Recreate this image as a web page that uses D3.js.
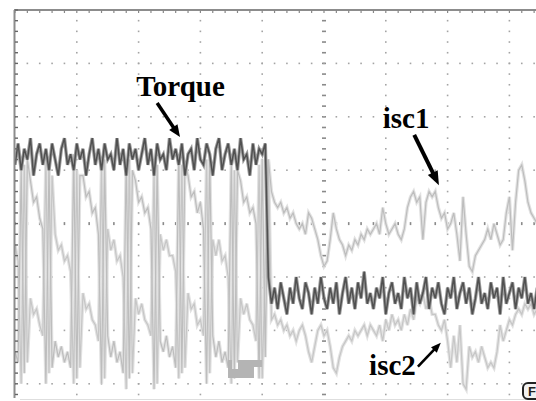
<!DOCTYPE html>
<html><head><meta charset="utf-8">
<script src="https://cdn.jsdelivr.net/npm/d3@7"></script>
<style>html,body{margin:0;padding:0;background:#fff;} svg{display:block}</style>
</head><body>
<svg id="c" width="536" height="401"></svg>
<script>
// Sample spacing in time units (10 units = 1 screen division)
const dt = 0.5;

// Torque trace (units: 10 = 1 division, 0 = screen centre)
const torque = [
 11,15,10,14,12,16,9,13,15,11,14,10,15,12,9,14,16,11,13,10,
 15,12,14,9,13,16,11,14,10,15,12,13,10,16,11,14,9,15,12,14,
 10,13,16,11,14,9,15,12,13,10,16,12,14,11,15,9,13,14,10,16,
 12,11,15,13,9,14,16,10,13,15,11,14,10,16,12,13,9,15,11,14,
 13,15,
 -10,-15,-12,-16,-11,-14,-17,-12,-15,-10,-14,-16,-11,-13,-17,-12,-15,-10,-14,-16,
 -12,-15,-11,-17,-13,-10,-15,-12,-16,-11,-14,-9,-15,-13,-16,-12,-14,-10,-17,-13,
 -11,-15,-13,-16,-10,-14,-12,-17,-11,-15,-13,-10,-16,-12,-14,-11,-15,-17,-12,-14,
 -10,-16,-13,-11,-15,-12,-17,-14,-10,-15,-13,-16,-11,-14,-12,-17,-10,-15,-13,-11,
 -16,-12,-14,-10,-15,-13,-16,-12
];

// isc1 trace
const isc1 = [
 -24,-26, 10,-28,12, 8,4,5,1,-1, -30,11,-27, -22,-25,-23,-26,-24,-27,
 13,-29,9, 9,5,6,2,3,-2, -30,12, -21,-25,-22,-26,-24,-28,
 12,-29,10, 8,4,5,2,3,-1, -31,11, -22,-24,-21,-25,-23,-27,
 13,-28,11, 9,5,6,2,4,-1, -30,12, -21,-25,-22,-26,-24,-27,
 12,-29,10, 8,4,5,2,3,0, -29,12, -25,
 12,6,4,3,4,2,3,1,2,0,
 -1,0,-2,2,1,-1,-3,-6,-8,-7,
 -3,2,-1,-3,-4,-6,-4,-5,-3,-4,
 -2,-3,-1,-2,-1,0,-2,3,0,-2,
 -1,0,-2,-3,-1,3,5,6,4,5,
 -3,4,6,5,6,3,1,2,-1,0,
 2,-2,-7,5,-2,-8,-9,-6,-5,-4,
 -3,-1,-3,0,-2,-4,-3,2,5,-5,
 4,10,11,8,4,2,1,0
];

// isc2 trace
const isc2 = [
 -4,-7, -30,11,-26, -14,-17,-16,-19,-21, 12,-28,9, -2,-5,-4,-7,-6,-9,
 -30,10,-27, -13,-16,-15,-18,-19,-22, 11,-29, -1,-5,-3,-7,-6,-10,
 -31,12,-28, -14,-17,-15,-18,-19,-21, 10,-30, -2,-5,-3,-6,-6,-9,
 -29,11,-27, -13,-16,-15,-19,-18,-21, 12,-28, -3,-6,-3,-7,-6,-10,
 -30,10,-26, -14,-17,-15,-18,-19,-22, 11,-29, -8,
 12,-18,-17,-19,-18,-20,-19,-21,-20,-22,
 -20,-19,-21,-24,-26,-23,-20,-19,-21,-20,
 -23,-27,-28,-25,-23,-22,-21,-22,-20,-21,
 -20,-19,-21,-19,-20,-21,-19,-22,-18,-20,
 -17,-19,-18,-20,-17,-19,-16,-18,-14,-15,
 -13,-16,-14,-17,-17,-19,-20,-18,-22,-27,
 -21,-26,-19,-30,-31,-23,-25,-24,-26,-23,
 -25,-27,-26,-27,-24,-19,-22,-20,-18,-19,
 -17,-16,-17,-15,-16,-15,-17,-16
];

// Trigger/marker outline (time, level)
const markerPts = [[34.47,-25.54],[35.11,-25.54],[35.11,-27.23],[36.08,-27.23],[36.08,-25.54],
  [39.97,-25.54],[39.97,-26.85],[38.67,-26.85],[38.67,-28.91],[34.47,-28.91]];

const W = 536, H = 401;
const svg = d3.select("#c");
const x = d3.scaleLinear().domain([0, 100]).range([15, 633]);
const y = d3.scaleLinear().domain([-40, 40]).range([437.2, 10]);

const majorX = d3.range(10, 100, 10);
const majorY = d3.range(-30, 40, 10);
const minorX = d3.range(0, 100.01, 2);
const minorY = d3.range(-40, 40.01, 2);

const grid = svg.append("g");
majorX.forEach(gx => {
  minorY.forEach(my => {
    const c = gx === 50;
    grid.append("rect")
      .attr("x", x(gx) - (c ? 2 : 0.8)).attr("y", y(my) - 0.8)
      .attr("width", c ? 4 : 1.6).attr("height", 1.6)
      .attr("fill", c ? "#8a8a8a" : "#a4a4a4");
  });
});
majorY.forEach(gy => {
  minorX.forEach(mx => {
    const c = gy === 0;
    grid.append("rect")
      .attr("x", x(mx) - 0.8).attr("y", y(gy) - (c ? 1.5 : 0.8))
      .attr("width", 1.6).attr("height", c ? 3 : 1.6)
      .attr("fill", c ? "#8a8a8a" : "#a4a4a4");
  });
});

svg.append("line").attr("x1", 20).attr("x2", W).attr("y1", 399.5).attr("y2", 399.5)
  .attr("stroke", "#dedede").attr("stroke-width", 1);

svg.append("clipPath").attr("id", "clip").append("rect")
  .attr("x", x(0)).attr("y", y(40)).attr("width", W - x(0)).attr("height", H - y(40));

const plot = svg.append("g").attr("clip-path", "url(#clip)");
const line = d3.line().x((d, i) => x(i * dt)).y(d => y(d));

// current traces: faint halo + light core
[isc2, isc1].forEach(s => {
  plot.append("path").datum(s).attr("d", line)
    .attr("fill", "none").attr("stroke", "#e2e2e2").attr("stroke-width", 3.4);
});
plot.append("path").datum(isc2).attr("d", line)
  .attr("fill", "none").attr("stroke", "#c6c6c6").attr("stroke-width", 1.2);
plot.append("path").datum(isc1).attr("d", line)
  .attr("fill", "none").attr("stroke", "#bdbdbd").attr("stroke-width", 1.2);
// torque: fuzzy halo + dark core
plot.append("path").datum(torque).attr("d", line)
  .attr("fill", "none").attr("stroke", "#9c9c9c").attr("stroke-width", 3.4);
plot.append("path").datum(torque).attr("d", line)
  .attr("fill", "none").attr("stroke", "#505050").attr("stroke-width", 1.5);

plot.append("path")
  .attr("d", d3.line().x(d => x(d[0])).y(d => y(d[1]))(markerPts) + "Z")
  .attr("fill", "#b4b4b4");

svg.append("line").attr("x1", x(0) - 1).attr("x2", W).attr("y1", y(40)).attr("y2", y(40))
  .attr("stroke", "#8c8c8c").attr("stroke-width", 2);
svg.append("line").attr("x1", x(0) - 0.5).attr("x2", x(0) - 0.5).attr("y1", y(40)).attr("y2", 398)
  .attr("stroke", "#8c8c8c").attr("stroke-width", 2);
minorX.forEach(mx => {
  if (x(mx) < W) svg.append("line").attr("x1", x(mx)).attr("x2", x(mx))
    .attr("y1", y(40)).attr("y2", y(40) + 3).attr("stroke", "#888").attr("stroke-width", 1.2);
});
minorY.forEach(my => {
  if (y(my) < 398) svg.append("line").attr("x1", x(0)).attr("x2", x(0) + 3)
    .attr("y1", y(my)).attr("y2", y(my)).attr("stroke", "#666").attr("stroke-width", 1.4);
});

const serif = "'Liberation Serif','Times New Roman',serif";
function label(txt, t, v) {
  svg.append("text").attr("x", x(t)).attr("y", y(v)).text(txt)
    .attr("font-family", serif).attr("font-weight", "bold").attr("font-size", 29).attr("fill", "#000");
}
function arrow(t1, v1, t2, v2, w, hl, hw) {
  const x1 = x(t1), y1 = y(v1), x2 = x(t2), y2 = y(v2);
  const dx = x2 - x1, dy = y2 - y1, L = Math.hypot(dx, dy);
  const ux = dx / L, uy = dy / L, nx = -uy, ny = ux;
  const bx = x2 - ux * hl, by = y2 - uy * hl;
  svg.append("line").attr("x1", x1).attr("y1", y1).attr("x2", bx + ux * 1).attr("y2", by + uy * 1)
    .attr("stroke", "#000").attr("stroke-width", w);
  svg.append("path").attr("d", `M${x2},${y2}L${bx + nx * hw / 2},${by + ny * hw / 2}L${bx - nx * hw / 2},${by - ny * hw / 2}Z`)
    .attr("fill", "#000");
}
label("Torque", 19.6, 23.9);
label("isc1", 59.5, 17.9);
label("isc2", 57.3, -28.3);
arrow(23.0, 22.6, 26.7, 16.2, 3.5, 12, 10);
arrow(64.6, 16.6, 68.6, 7.2, 4, 14, 11);
arrow(65.2, -26.8, 68.9, -22.3, 2.6, 10, 8);

const bx0 = x(82.2), by0 = y(-29.85);
svg.append("rect").attr("x", bx0).attr("y", by0).attr("width", 20).attr("height", 16).attr("rx", 5)
  .attr("fill", "#f2f2f2").attr("stroke", "#222").attr("stroke-width", 2);
svg.append("text").attr("x", bx0 + 5).attr("y", by0 + 13).text("F")
  .attr("font-family", "'Liberation Sans',Arial,sans-serif").attr("font-weight", "bold")
  .attr("font-size", 13).attr("fill", "#222");
</script>
</body></html>
